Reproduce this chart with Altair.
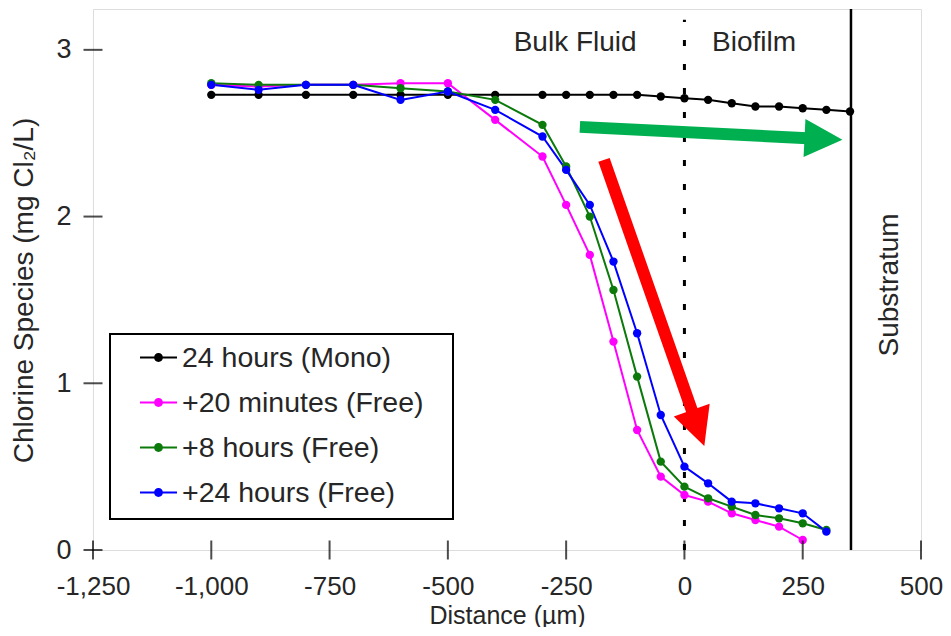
import math
import altair as alt
import pandas as pd

# ---------------- data ----------------
series_names = ["24 hours (Mono)", "+20 minutes (Free)", "+8 hours (Free)", "+24 hours (Free)"]
series_colors = ["#000000", "#ff00ff", "#0b7a0b", "#0000ff"]

dist_mono = [-1000, -900, -800, -700, -600, -500, -400, -300, -250, -200, -150, -100, -50,
             0, 50, 100, 150, 200, 250, 300, 350]
conc_mono = [2.73, 2.73, 2.73, 2.73, 2.73, 2.73, 2.73, 2.73, 2.73, 2.73, 2.73, 2.73, 2.72,
             2.71, 2.70, 2.68, 2.66, 2.66, 2.65, 2.64, 2.63]

dist_20min = [-1000, -900, -800, -700, -600, -500, -400, -300, -250, -200, -150, -100, -50,
              0, 50, 100, 150, 200, 250]
conc_20min = [2.79, 2.78, 2.79, 2.79, 2.80, 2.80, 2.58, 2.36, 2.07, 1.77, 1.25, 0.72, 0.44,
              0.33, 0.29, 0.22, 0.18, 0.14, 0.06]

dist_8h = [-1000, -900, -800, -700, -600, -500, -400, -300, -250, -200, -150, -100, -50,
           0, 50, 100, 150, 200, 250, 300]
conc_8h = [2.80, 2.79, 2.79, 2.79, 2.77, 2.75, 2.70, 2.55, 2.30, 2.00, 1.56, 1.04, 0.53,
           0.38, 0.31, 0.26, 0.21, 0.19, 0.16, 0.12]

dist_24h = [-1000, -900, -800, -700, -600, -500, -400, -300, -250, -200, -150, -100, -50,
            0, 50, 100, 150, 200, 250, 300]
conc_24h = [2.79, 2.76, 2.79, 2.79, 2.70, 2.75, 2.64, 2.48, 2.28, 2.07, 1.73, 1.30, 0.81,
            0.50, 0.40, 0.29, 0.28, 0.25, 0.22, 0.11]

x_ticks = [-1250, -1000, -750, -500, -250, 0, 250, 500]
y_ticks = [0, 1, 2, 3]

region_labels = ["Bulk Fluid", "Biofilm"]
region_label_x = [-231, 147]
region_label_y = [3.04, 3.04]

interface_x = 0          # dotted line (bulk fluid / biofilm)
interface_top = 3.18
substratum_x = 352       # solid line
substratum_label = "Substratum"
substratum_label_x = 435
substratum_label_y = 1.59

# arrows: start (x, y), tip (x, y)
green_arrow = [(-221, 2.538), (334, 2.46)]
red_arrow = [(-170, 2.34), (42, 0.624)]

# ---------------- layout ----------------
X_MIN, X_MAX = -1250, 500
Y_MIN, Y_MAX = 0, 3.245
W, H = 828, 541
FONT = "Liberation Sans"
TXT = "#262626"

px_x = W / (X_MAX - X_MIN)
px_y = H / (Y_MAX - Y_MIN)

all_x = [dist_mono, dist_20min, dist_8h, dist_24h]
all_y = [conc_mono, conc_20min, conc_8h, conc_24h]
rows = []
for name, xs, ys in zip(series_names, all_x, all_y):
    for xv, yv in zip(xs, ys):
        rows.append({"series": name, "x": xv, "y": yv})
df = pd.DataFrame(rows)

XS = alt.Scale(domain=[X_MIN, X_MAX], nice=False, zero=False)
YS = alt.Scale(domain=[Y_MIN, Y_MAX], nice=False, zero=False)
XAX = alt.Axis(values=x_ticks, labelExpr="(datum.value < 0 ? '-' : '') + format(abs(datum.value), ',')",
               ticks=False, tickSize=0, domain=False, grid=False, labelPadding=23, labelFlush=False,
               labelFontSize=26, labelColor=TXT, labelFont=FONT,
               title="Distance (µm)", titleFontSize=25, titleFontWeight="normal", titleColor=TXT,
               titleFont=FONT, titleBaseline="alphabetic", titleY=73)
YAX = alt.Axis(values=y_ticks, ticks=False, tickSize=0, domain=False, grid=False, labelPadding=22,
               labelFlush=False,
               labelFontSize=27, labelColor=TXT, labelFont=FONT,
               title="Chlorine Species (mg Cl₂/L)", titleFontSize=28, titleFontWeight="normal",
               titleColor=TXT, titleFont=FONT, titleBaseline="alphabetic", titleX=-61, titleY=281)


def X(field="x"):
    return alt.X(f"{field}:Q", scale=XS, axis=XAX)


def Y(field="y"):
    return alt.Y(f"{field}:Q", scale=YS, axis=YAX)


LEG_PATH = ("M-1,-0.06H1V0.06H-1Z "
            "M-0.24,0A0.24,0.24 0 1,1 0.24,0A0.24,0.24 0 1,1 -0.24,0Z")

line_layers = []
for name, col in zip(series_names, series_colors):
    line_layers.append(
        alt.Chart(df[df["series"] == name]).mark_line(strokeWidth=2, color=col).encode(
            x=X(), y=Y(), order=alt.Order("x:Q")))

points = alt.Chart(df).mark_circle(size=70, opacity=1).encode(
    x=X(), y=Y(),
    color=alt.Color("series:N", scale=alt.Scale(domain=series_names, range=series_colors),
                    legend=alt.Legend(orient="none", legendX=47, legendY=330, title=None,
                                      symbolType=LEG_PATH, symbolSize=1369, symbolStrokeWidth=0,
                                      labelFontSize=28.5, labelColor=TXT, labelFont=FONT,
                                      labelLimit=400, labelOffset=5, rowPadding=12, padding=0)))

legend_box = alt.Chart(alt.Data(values=[{}])).mark_rect(
    filled=False, stroke="black", strokeWidth=2).encode(
    x=alt.value(17), x2=alt.value(360), y=alt.value(325), y2=alt.value(510))

xtick_df = pd.DataFrame({"x": x_ticks, "y": [0] * len(x_ticks)})
ytick_df = pd.DataFrame({"x": [X_MIN] * len(y_ticks), "y": y_ticks})
xticks = alt.Chart(xtick_df).mark_tick(orient="vertical", size=19, thickness=2, color="black").encode(x=X(), y=Y())
yticks = alt.Chart(ytick_df).mark_tick(orient="horizontal", size=19, thickness=2, color="black").encode(x=X(), y=Y())

dotted = alt.Chart(pd.DataFrame({"x": [interface_x], "y": [0], "y2": [interface_top]})).mark_rule(
    color="black", strokeWidth=3, strokeDash=[6, 18]).encode(x=X(), y=Y(), y2="y2:Q")
substratum = alt.Chart(pd.DataFrame({"x": [substratum_x], "y": [Y_MIN], "y2": [Y_MAX]})).mark_rule(
    color="black", strokeWidth=2.5).encode(x=X(), y=Y(), y2="y2:Q")

region_text = alt.Chart(pd.DataFrame({"x": region_label_x, "y": region_label_y, "t": region_labels})).mark_text(
    fontSize=28, font=FONT, color=TXT, align="center", baseline="middle").encode(x=X(), y=Y(), text="t:N")
sub_text = alt.Chart(pd.DataFrame({"x": [substratum_label_x], "y": [substratum_label_y], "t": [substratum_label]})).mark_text(
    fontSize=28, font=FONT, color=TXT, align="center", baseline="middle", angle=270).encode(x=X(), y=Y(), text="t:N")

HEAD_PATH = "M0,0L-2,-1L-2,1Z"
HEAD_SIZE = 1444
HEAD_BACK = 20  # px: shaft ends inside the head


def arrow(spec, col):
    (x0, y0), (x1, y1) = spec
    dxp = (x1 - x0) * px_x
    dyp = -(y1 - y0) * px_y
    ang = math.degrees(math.atan2(dyp, dxp)) % 360
    L = math.hypot(dxp, dyp)
    ex = x1 - (dxp / L * HEAD_BACK) / px_x
    ey = y1 + (dyp / L * HEAD_BACK) / px_y
    shaft = alt.Chart(pd.DataFrame({"x": [x0], "y": [y0], "x2": [ex], "y2": [ey]})).mark_rule(
        color=col, strokeWidth=12, strokeCap="butt").encode(x=X(), y=Y(), x2="x2:Q", y2="y2:Q")
    head = alt.Chart(pd.DataFrame({"x": [x1], "y": [y1]})).mark_point(
        shape=HEAD_PATH, size=HEAD_SIZE, filled=True, opacity=1, color=col, angle=ang,
        strokeWidth=0).encode(x=X(), y=Y())
    return shaft + head


chart = alt.layer(
    dotted, substratum, region_text, sub_text,
    *line_layers, points,
    arrow(green_arrow, "#00b050"), arrow(red_arrow, "#ff0000"),
    legend_box, xticks, yticks,
).properties(
    width=W, height=H,
    autosize=alt.AutoSizeParams(type="none"),
    padding={"left": 85, "top": 1, "right": 22, "bottom": 77},
).configure_view(stroke="black", strokeWidth=2).configure(font=FONT)

chart.save("out.html", embed_options={"renderer": "svg", "actions": False})
